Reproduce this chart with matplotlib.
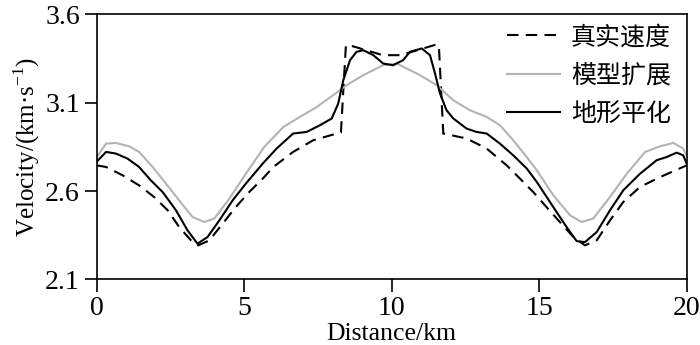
import numpy as np
import matplotlib
matplotlib.use("Agg")
from matplotlib import pyplot as plt

# 真实速度 (dashed)
x_true = [0, 0.32, 0.88, 1.44, 1.95, 2.41, 2.8, 3.2, 3.45, 3.82, 4.27, 4.72, 5.17, 5.63,
          5.99, 6.66, 7.34, 8.14, 8.28, 8.45, 8.55, 9.7, 10.3, 11.45, 11.6, 11.75,
          12.54, 13.22, 13.9, 14.35, 14.8, 15.25, 15.7, 16.16, 16.55, 16.95, 17.4,
          17.85, 18.42, 19.1, 20]
v_true = [2.745, 2.736, 2.689, 2.632, 2.566, 2.491, 2.396, 2.321, 2.293, 2.321, 2.415,
          2.51, 2.594, 2.67, 2.736, 2.821, 2.887, 2.925, 2.93, 3.425, 3.425, 3.368,
          3.368, 3.425, 3.425, 2.925, 2.897, 2.84, 2.745, 2.67, 2.594, 2.509, 2.425,
          2.34, 2.293, 2.321, 2.434, 2.538, 2.623, 2.679, 2.745]

# 模型扩展 (gray)
x_model = [0, 0.32, 0.65, 1.1, 1.44, 1.9, 2.35, 2.8, 3.25, 3.65, 3.99, 4.5, 5.06, 5.68,
           6.33, 6.89, 7.46, 8.02, 8.47, 9.04, 9.71, 10.17, 10.96, 11.53, 12.09, 12.65,
           13.22, 13.67, 14.12, 14.58, 14.92, 15.48, 16.05, 16.44, 16.83, 17.4, 17.97,
           18.59, 19.1, 19.55, 19.88, 20]
v_model = [2.79, 2.868, 2.872, 2.853, 2.821, 2.736, 2.642, 2.547, 2.453, 2.425, 2.444,
           2.557, 2.698, 2.849, 2.962, 3.019, 3.075, 3.142, 3.198, 3.255, 3.311, 3.321,
           3.255, 3.198, 3.113, 3.057, 3.019, 2.972, 2.887, 2.792, 2.717, 2.576, 2.462,
           2.425, 2.444, 2.566, 2.698, 2.821, 2.853, 2.872, 2.84, 2.8]

# 地形平化 (black)
x_flat = [0, 0.32, 0.65, 1.05, 1.44, 1.84, 2.24, 2.69, 3.08, 3.42, 3.76, 4.16, 4.61,
          5.06, 5.63, 6.1, 6.66, 7.12, 7.57, 7.97, 8.19, 8.36, 8.59, 8.81, 9.04, 9.38,
          9.71, 10.05, 10.39, 10.62, 11.02, 11.3, 11.47, 11.64, 11.86, 12.09, 12.54,
          12.88, 13.22, 13.67, 14.12, 14.58, 14.92, 15.48, 15.93, 16.27, 16.55, 16.95,
          17.4, 17.85, 18.42, 18.98, 19.32, 19.66, 19.88, 20]
v_flat = [2.765, 2.821, 2.812, 2.783, 2.736, 2.66, 2.594, 2.491, 2.378, 2.302, 2.34,
          2.434, 2.547, 2.642, 2.755, 2.84, 2.925, 2.934, 2.972, 3.01, 3.095, 3.226,
          3.34, 3.387, 3.396, 3.368, 3.321, 3.311, 3.34, 3.387, 3.406, 3.368, 3.264,
          3.151, 3.057, 3.01, 2.953, 2.934, 2.925, 2.868, 2.802, 2.727, 2.651, 2.509,
          2.396, 2.317, 2.311, 2.368, 2.491, 2.604, 2.698, 2.774, 2.792, 2.817, 2.802,
          2.755]

x_ticks = [0, 5, 10, 15, 20]
y_ticks = [2.1, 2.6, 3.1, 3.6]
labels = ["真实速度", "模型扩展", "地形平化"]


def main():
    plt.rcParams['font.family'] = ['Liberation Serif']
    plt.rcParams['mathtext.fontset'] = 'custom'
    plt.rcParams['mathtext.rm'] = 'Liberation Serif'

    fig = plt.figure(figsize=(7, 3.45), dpi=100)
    ax = fig.add_axes([0.138, 0.19, 0.843, 0.769])

    ax.plot(x_true, v_true, color='black', lw=1.5, ls=(0, (5.5, 3.5)), label=labels[0])
    ax.plot(x_model, v_model, color='#b3b3b3', lw=1.5, label=labels[1])
    ax.plot(x_flat, v_flat, color='black', lw=1.5, label=labels[2])

    ax.set_xlim(0, 20)
    ax.set_ylim(2.1, 3.6)
    ax.set_xticks(x_ticks)
    ax.set_yticks(y_ticks)
    ax.set_xticklabels([str(t) for t in x_ticks])
    ax.set_yticklabels(["%.1f" % t for t in y_ticks])
    ax.tick_params(direction='out', length=9, width=1.2, labelsize=20, pad=3)
    for spine in ax.spines.values():
        spine.set_linewidth(1.2)

    ax.set_xlabel("Distance/km", fontsize=18.5, labelpad=1)
    ax.set_ylabel("Velocity/(km·s$^{\\mathregular{-1}}$)", fontsize=18, labelpad=2)

    ax.legend(loc='upper right', bbox_to_anchor=(0.99, 1.0), frameon=False,
              handlelength=2.1, handletextpad=0.45, labelspacing=0.5, borderaxespad=0.0,
              prop={'family': ['Noto Sans CJK SC', 'DejaVu Sans'], 'size': 18})

    plt.savefig('out.png', dpi=100)
    plt.close()


if __name__ == "__main__":
    main()
